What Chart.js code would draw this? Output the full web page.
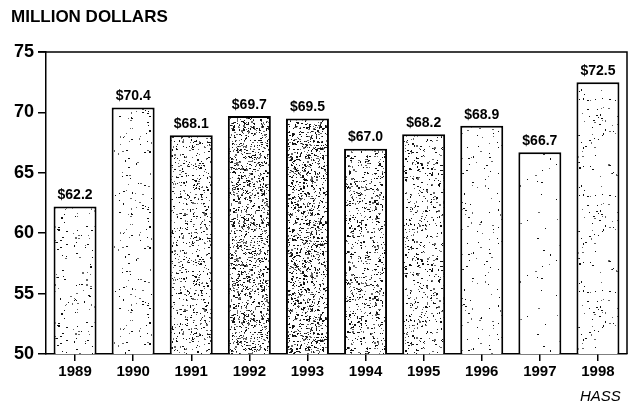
<!DOCTYPE html>
<html>
<head>
<meta charset="utf-8">
<script src="https://cdn.jsdelivr.net/npm/chart.js@4"></script>
<style>
  html, body { margin: 0; padding: 0; background: #fff; }
  #wrap { width: 638px; height: 405px; position: relative; }
</style>
</head>
<body>
<div id="wrap"><canvas id="chart" width="638" height="405"></canvas></div>
<script>
// Chart data
const years = ["1989", "1990", "1991", "1992", "1993", "1994", "1995", "1996", "1997", "1998"]
const revenue = [62.2, 70.4, 68.1, 69.7, 69.5, 67.0, 68.2, 68.9, 66.7, 72.5]
const yTicks = [50, 55, 60, 65, 70, 75]
// stipple darkness of each bar (scanned shading)
const shade = [0.022, 0.018, 0.08, 0.15, 0.15, 0.1, 0.07, 0.014, 0.004, 0.018]

const FONT = "'Liberation Sans', Arial, sans-serif"

// deterministic speckle texture, used only for the bar shading
function makeStipple(density, seed) {
  const c = document.createElement('canvas')
  c.width = 64
  c.height = 96
  const g = c.getContext('2d')
  g.fillStyle = '#fff'
  g.fillRect(0, 0, c.width, c.height)
  let s = seed
  const rnd = () => { s = (s * 16807) % 2147483647; return s / 2147483647 }
  const n = Math.round(c.width * c.height * density)
  for (let i = 0; i < n; i++) {
    const x = Math.floor(rnd() * c.width)
    const y = Math.floor(rnd() * c.height)
    g.fillStyle = rnd() < 0.6 ? '#111' : '#666'
    g.fillRect(x, y, rnd() < 0.35 ? 2 : 1, rnd() < 0.2 ? 2 : 1)
  }
  return g.createPattern(c, 'repeat')
}

const fills = shade.map((d, i) => makeStipple(d, 1234 + i * 977))

const framePlugin = {
  id: 'frame',
  afterDraw(chart) {
    const { ctx, chartArea: a } = chart
    ctx.save()
    ctx.strokeStyle = '#000'
    ctx.lineWidth = 1.5
    ctx.beginPath()
    ctx.moveTo(a.left - 8, a.top)
    ctx.lineTo(a.right, a.top)
    ctx.lineTo(a.right, a.bottom)
    ctx.stroke()

    // value labels above bars
    ctx.fillStyle = '#000'
    ctx.font = 'bold 14px ' + FONT
    ctx.textAlign = 'center'
    ctx.textBaseline = 'bottom'
    chart.getDatasetMeta(0).data.forEach((bar, i) => {
      ctx.fillText('$' + revenue[i].toFixed(1), bar.x, bar.y - 4)
    })

    // unit title and source
    ctx.font = 'bold 17px ' + FONT
    ctx.textAlign = 'left'
    ctx.textBaseline = 'middle'
    ctx.fillText('MILLION DOLLARS', 11, 17)
    ctx.font = 'italic 15px ' + FONT
    ctx.fillText('HASS', 580, 397)
    ctx.restore()
  }
}

new Chart(document.getElementById('chart'), {
  type: 'bar',
  data: {
    labels: years,
    datasets: [{
      data: revenue,
      backgroundColor: fills,
      borderColor: '#000',
      borderWidth: 2,
      borderSkipped: 'bottom',
      barPercentage: 0.74,
      categoryPercentage: 1
    }]
  },
  options: {
    responsive: false,
    animation: false,
    layout: { padding: { top: 52, right: 11, left: 0, bottom: 0 } },
    plugins: { legend: { display: false }, tooltip: { enabled: false } },
    scales: {
      x: {
        grid: { display: true, drawOnChartArea: false, offset: false, tickLength: 7, color: '#000', lineWidth: 1.5 },
        border: { color: '#000', width: 1.5 },
        ticks: { color: '#000', font: { family: FONT, size: 15, weight: 'bold' }, padding: 2 },
        afterFit(scale) { scale.height = 51 }
      },
      y: {
        min: 50,
        max: 75,
        afterBuildTicks(scale) { scale.ticks = yTicks.map(v => ({ value: v })) },
        grid: { display: true, drawOnChartArea: false, tickLength: 8, color: '#000', lineWidth: 1.5 },
        border: { color: '#000', width: 1.5 },
        ticks: { color: '#000', font: { family: FONT, size: 18, weight: 'bold' }, padding: 4 },
        afterFit(scale) { scale.width = 46 }
      }
    }
  },
  plugins: [framePlugin]
})
</script>
</body>
</html>
